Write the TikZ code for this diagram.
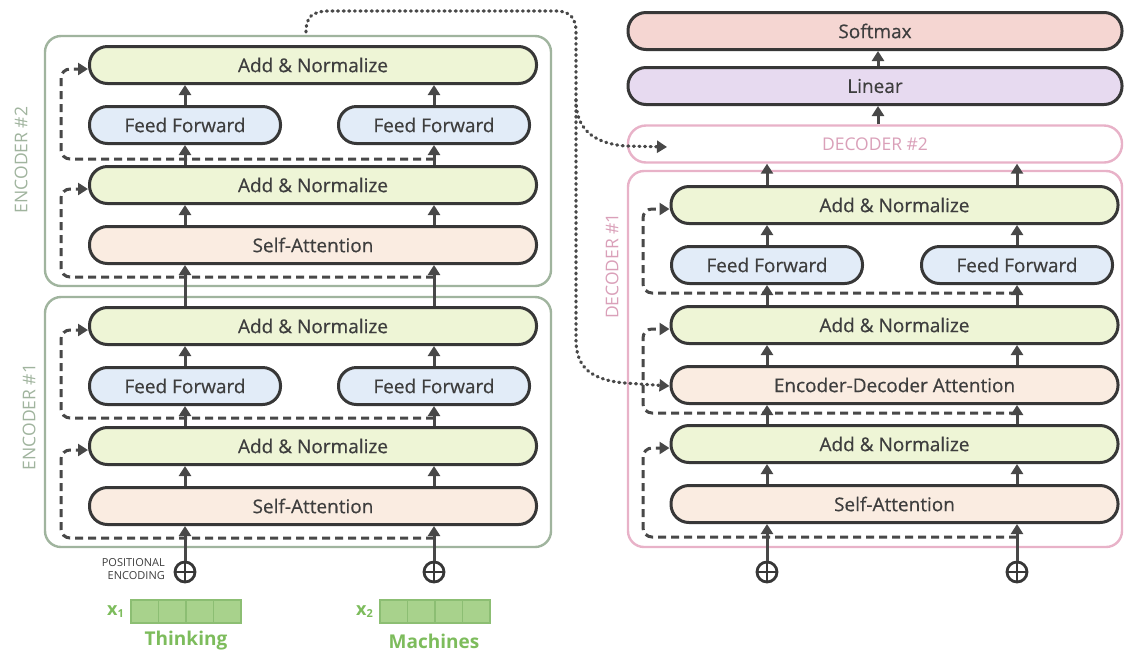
\documentclass[tikz,border=0pt]{standalone}
\usepackage{fontspec}
\setmainfont{Open Sans}
\newfontfamily\medfont{Open Sans}[FakeBold=0.5]
\usetikzlibrary{arrows.meta}
\definecolor{anfill}{RGB}{238,245,214}
\definecolor{fffill}{RGB}{226,236,248}
\definecolor{safill}{RGB}{250,236,225}
\definecolor{smfill}{RGB}{245,214,210}
\definecolor{linfill}{RGB}{231,218,240}
\definecolor{boxline}{RGB}{55,55,55}
\definecolor{txtc}{RGB}{62,62,62}
\definecolor{arrc}{RGB}{72,72,72}
\definecolor{encc}{RGB}{160,180,158}
\definecolor{decc}{RGB}{232,178,200}
\definecolor{declab}{RGB}{218,160,185}
\definecolor{wordc}{RGB}{125,188,92}
\definecolor{cellfill}{RGB}{168,210,140}
\definecolor{celldraw}{RGB}{140,190,115}
\tikzset{
 blk/.style={draw=boxline, line width=3pt, rounded corners=18pt, minimum height=37pt, inner sep=0pt, text=txtc, font=\medfont\fontsize{19}{22}\selectfont},
 wideblk/.style={blk, minimum width=447pt},
 ffb/.style={blk, minimum width=191pt, fill=fffill},
 anb/.style={wideblk, fill=anfill},
 sab/.style={wideblk, fill=safill},
 topb/.style={blk, minimum width=494pt},
 enccont/.style={draw=encc, line width=2.4pt, rounded corners=16pt},
 deccont/.style={draw=decc, line width=2.4pt, rounded corners=16pt},
 arr/.style={draw=arrc, line width=3pt, -{Triangle[width=12pt,length=10pt]}},
 dsh/.style={draw=arrc, line width=3pt, dash pattern=on 8pt off 5pt, rounded corners=9pt, -{Triangle[width=12pt,length=10pt]}},
 dotl/.style={draw=arrc, line width=3.2pt, line cap=round, dash pattern=on 1pt off 4.6pt, -{Triangle[width=12pt,length=10pt]}},
 plusc/.style={circle, draw=boxline, line width=2.8pt, minimum size=20pt, inner sep=0pt,
   path picture={\draw[line width=2.6pt, boxline] (path picture bounding box.west) -- (path picture bounding box.east) (path picture bounding box.north) -- (path picture bounding box.south);}},
 contlab/.style={rotate=90, font=\fontsize{17.5}{20}\selectfont},
 cell/.style={draw=celldraw, fill=cellfill, line width=1.4pt, minimum width=27.5pt, minimum height=23pt, inner sep=0pt},
 word/.style={text=wordc, font=\bfseries\fontsize{19}{22}\selectfont},
}
\begin{document}
\begin{tikzpicture}[x=1pt,y=-1pt]
\useasboundingbox (0,0) rectangle (1124,657);
\fill[white] (0,0) rectangle (1124,657);

% containers
\node[enccont, minimum width=506pt, minimum height=250pt] (enc2) at (298,161) {};
\node[enccont, minimum width=506pt, minimum height=250pt] (enc1) at (298,422) {};
\node[deccont, minimum width=494pt, minimum height=376pt] (dec1) at (875,359) {};
\node[contlab, text=encc] (enc2lab) at (21,160) {ENCODER \#2};
\node[contlab, text=encc] (enc1lab) at (29,417) {ENCODER \#1};
\node[contlab, text=declab] (dec1lab) at (612,266) {DECODER \#1};

% column coordinates
\coordinate (colL) at (185,0);
\coordinate (colR) at (434,0);
\coordinate (dcolL) at (767,0);
\coordinate (dcolR) at (1017,0);
\coordinate (topc) at (878,0);

% encoder 2
\node[anb] (e2an2) at (313,65) {Add \& Normalize};
\node[ffb] (e2ffL) at (185,125) {Feed Forward};
\node[ffb] (e2ffR) at (434,125) {Feed Forward};
\node[anb] (e2an1) at (313,185) {Add \& Normalize};
\node[sab] (e2sa) at (313,245) {Self-Attention};
% encoder 1
\node[anb] (e1an2) at (313,326) {Add \& Normalize};
\node[ffb] (e1ffL) at (185,386) {Feed Forward};
\node[ffb] (e1ffR) at (434,386) {Feed Forward};
\node[anb] (e1an1) at (313,446) {Add \& Normalize};
\node[sab] (e1sa) at (313,506) {Self-Attention};
% decoder
\node[topb, fill=smfill] (smax) at (875,31) {Softmax};
\node[topb, fill=linfill] (lin) at (875,86) {Linear};
\node[blk, draw=decc, line width=2.4pt, minimum width=494pt, text=declab, font=\fontsize{17.5}{20}\selectfont] (dec2) at (875,144) {DECODER \#2};
\node[anb] (dan3) at (894.5,205) {Add \& Normalize};
\node[ffb] (dffL) at (767,265) {Feed Forward};
\node[ffb] (dffR) at (1017,265) {Feed Forward};
\node[anb] (dan2) at (894.5,325) {Add \& Normalize};
\node[sab] (deda) at (894.5,385) {Encoder-Decoder Attention};
\node[anb] (dan1) at (894.5,444) {Add \& Normalize};
\node[sab] (dsa) at (894.5,504) {Self-Attention};

% positional encodings
\node[plusc] (peL) at (185,572) {};
\node[plusc] (peR) at (434,572) {};
\node[plusc] (pdL) at (767,572) {};
\node[plusc] (pdR) at (1017,572) {};
\node[anchor=east, align=right, text=txtc, font=\fontsize{11}{13}\selectfont, inner sep=0pt] (posenc) at (165,569) {POSITIONAL\\ENCODING};

% word vectors
\foreach \i in {0,1,2,3}{
  \node[cell] (xa\i) at ({144.75+27.5*\i},611.5) {};
  \node[cell] (xb\i) at ({393.75+27.5*\i},611.5) {};
}
\node[text=wordc, anchor=east, inner sep=0pt] (x1lab) at (124,612) {\bfseries\fontsize{18}{18}\selectfont x\raisebox{-2pt}{\fontsize{11}{11}\selectfont 1}};
\node[text=wordc, anchor=east, inner sep=0pt] (x2lab) at (373,612) {\bfseries\fontsize{18}{18}\selectfont x\raisebox{-2pt}{\fontsize{11}{11}\selectfont 2}};
\node[word] (wthink) at (186,641) {Thinking};
\node[word] (wmach) at (434,641) {Machines};

% encoder arrows
\foreach \c in {L,R}{
  \draw[arr] (pe\c.north) -- (e1sa.south -| col\c);
  \draw[arr] (e1sa.north -| col\c) -- (e1an1.south -| col\c);
  \draw[arr] (e1an1.north -| col\c) -- (e1ff\c.south);
  \draw[arr] (e1ff\c.north) -- (e1an2.south -| col\c);
  \draw[arr] (e1an2.north -| col\c) -- (e2sa.south -| col\c);
  \draw[arr] (e2sa.north -| col\c) -- (e2an1.south -| col\c);
  \draw[arr] (e2an1.north -| col\c) -- (e2ff\c.south);
  \draw[arr] (e2ff\c.north) -- (e2an2.south -| col\c);
  % decoder
  \draw[arr] (pd\c.north) -- (dsa.south -| dcol\c);
  \draw[arr] (dsa.north -| dcol\c) -- (dan1.south -| dcol\c);
  \draw[arr] (dan1.north -| dcol\c) -- (deda.south -| dcol\c);
  \draw[arr] (deda.north -| dcol\c) -- (dan2.south -| dcol\c);
  \draw[arr] (dan2.north -| dcol\c) -- (dff\c.south);
  \draw[arr] (dff\c.north) -- (dan3.south -| dcol\c);
  \draw[arr] (dan3.north -| dcol\c) -- (dec2.south -| dcol\c);
}
\draw[arr] (dec2.north -| topc) -- (lin.south -| topc);
\draw[arr] (lin.north -| topc) -- (smax.south -| topc);

% residual (dashed) connections
\coordinate (re1a) at (434,538);
\coordinate (re1b) at (434,418);
\coordinate (re2a) at (434,277);
\coordinate (re2b) at (434,159);
\draw[dsh] (re1a) -- (61,538) -- (61,450) -- ([yshift=-4pt]e1an1.west);
\draw[dsh] (re1b) -- (61,418) -- (61,330) -- ([yshift=-4pt]e1an2.west);
\draw[dsh] (re2a) -- (61,277) -- (61,189) -- ([yshift=-4pt]e2an1.west);
\draw[dsh] (re2b) -- (61,159) -- (61,69) -- ([yshift=-4pt]e2an2.west);
\coordinate (rd1) at (1017,537);
\coordinate (rd2) at (1017,413);
\coordinate (rd3) at (1017,293);
\draw[dsh] (rd1) -- (643,537) -- (643,448) -- ([yshift=-4pt]dan1.west);
\draw[dsh] (rd2) -- (643,413) -- (643,329) -- ([yshift=-4pt]dan2.west);
\draw[dsh] (rd3) -- (643,293) -- (643,209) -- ([yshift=-4pt]dan3.west);

% encoder output (dotted)
\coordinate (dotS) at (306,32);
\coordinate (dotD2) at (667,147);
\draw[dotl] (dotS) .. controls (306,17) and (312,11) .. (330,11) -- (556,11)
   .. controls (570,11) and (576,18) .. (576,32) -- (576,340)
   .. controls (576,368) and (592,380) .. (625,383) -- ([yshift=-1pt]deda.west);
\draw[dotl] (576,100) .. controls (576,128) and (592,143) .. (625,146) -- (dotD2);
\end{tikzpicture}
\end{document}
